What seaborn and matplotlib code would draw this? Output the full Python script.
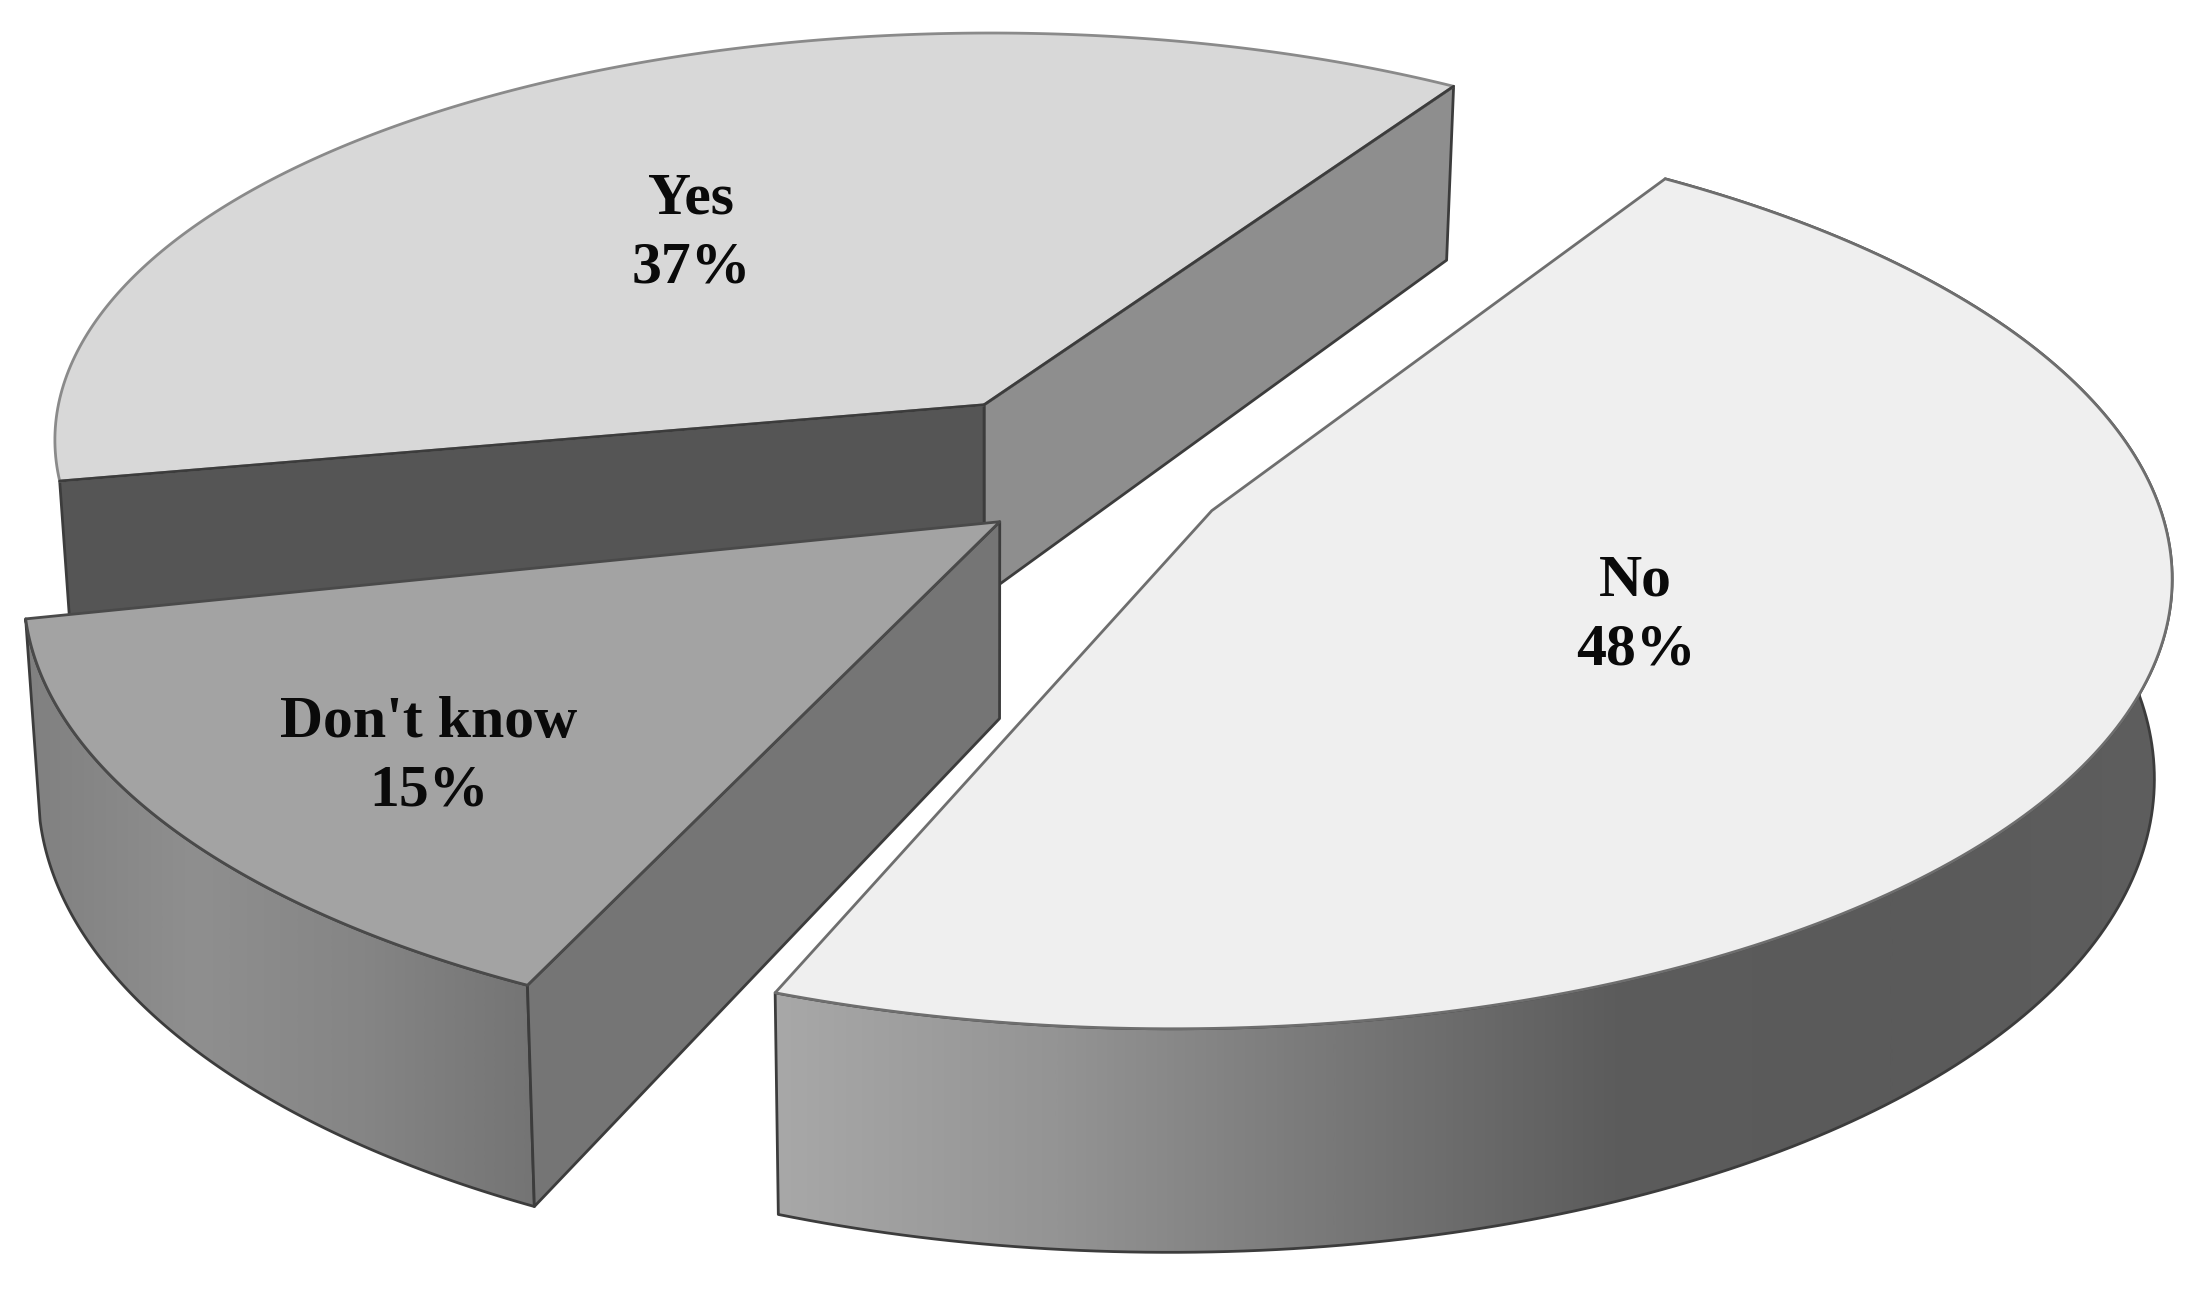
import numpy as np
import matplotlib
matplotlib.use('Agg')
import matplotlib.pyplot as plt
from matplotlib.patches import Polygon
import seaborn as sns

# chart data
categories = ["Yes", "Don't know", "No"]
shares = [37, 15, 48]
share_labels = ['37%', '15%', '48%']

# perspective of the pie plane, in pixels of the 1568 wide view
CX, CY, RX, RY, PERSP, DEPTH = 709, 340, 710, 314, 0.12, 138
CONVERGE = 0.015
START = 55

centers = {'Yes': (-0.010, 0.197), "Don't know": (0.027, -0.13), 'No': (0.15, -0.08)}
radii = {'Yes': 0.95, "Don't know": 0.98, 'No': 1.0}
tip_shift = {'Yes': (-0.006, -0.025), "Don't know": (-0.027, 0.0355), 'No': (0.06, 0.01)}
angle_nudge = {'Yes': (2, 4), "Don't know": (2, 1), 'No': (7.5, 0)}
top_colors = {'Yes': '#d8d8d8', "Don't know": '#a3a3a3', 'No': '#efefef'}
label_xy = {'Yes': (490, 166), "Don't know": (304, 537), 'No': (1160, 437)}


def project(x, y, lift=0.0):
    w = 1 + PERSP * y
    sx = CX + RX * x / w
    # the bottom of the pie narrows a little toward the middle
    sx = sx - CONVERGE * lift * (sx - 700)
    return sx, CY - RY * y / w + DEPTH * lift / w


def gradient_fill(ax, poly_xy, colors, x0, x1):
    cmap = sns.blend_palette(colors, 256, as_cmap=True)
    ys = poly_xy[:, 1]
    img = ax.imshow(np.linspace(0, 1, 512)[None, :], cmap=cmap, aspect='auto',
                    extent=(x0, x1, ys.max(), ys.min()), zorder=ax.zorder_now)
    patch = Polygon(poly_xy, closed=True, transform=ax.transData)
    img.set_clip_path(patch)
    ax.zorder_now += 1
    ax.add_patch(Polygon(poly_xy, closed=True, fill=False, ec='#3c3c3c', lw=2,
                         joinstyle='round', zorder=ax.zorder_now))
    ax.zorder_now += 1


def flat_face(ax, poly_xy, color, ec='#3c3c3c', lw=2):
    ax.add_patch(Polygon(poly_xy, closed=True, fc=color, ec=ec, lw=lw,
                         joinstyle='round', zorder=ax.zorder_now))
    ax.zorder_now += 1


def cut_face(ax, tip, rim, color):
    t0 = project(*tip)
    t1 = project(*rim)
    b1 = project(*rim, lift=1)
    b0 = project(*tip, lift=1)
    flat_face(ax, np.array([t0, t1, b1, b0]), color)


sns.set_style('white')
fig = plt.figure(figsize=(22.11, 12.93), dpi=100)
ax = fig.add_axes([0, 0, 1, 1])
ax.zorder_now = 2
ax.set_axis_off()

# slice angles come from the shares
edges = START + np.cumsum([0] + [s * 3.6 for s in shares])
slices = {}
for i, name in enumerate(categories):
    a0 = edges[i] + angle_nudge[name][0]
    a1 = edges[i + 1] + angle_nudge[name][1]
    theta = np.radians(np.linspace(a0, a1, 200))
    ox, oy = centers[name]
    r = radii[name]
    rim_x = ox + r * np.cos(theta)
    rim_y = oy + r * np.sin(theta)
    tip = (ox + tip_shift[name][0], oy + tip_shift[name][1])
    slices[name] = (theta, rim_x, rim_y, tip)


def top_face(ax, name, ec, lw=2):
    theta, rim_x, rim_y, tip = slices[name]
    sx, sy = project(rim_x, rim_y)
    pts = np.vstack([project(*tip), np.column_stack([sx, sy])])
    flat_face(ax, pts, top_colors[name], ec=ec, lw=lw)


def outer_wall(ax, name, colors, stop_deg):
    theta, rim_x, rim_y, tip = slices[name]
    keep = np.degrees(theta) <= stop_deg
    tx, ty = project(rim_x[keep], rim_y[keep])
    bx, by = project(rim_x[keep], rim_y[keep], lift=1)
    poly = np.vstack([np.column_stack([tx, ty]), np.column_stack([bx, by])[::-1]])
    gradient_fill(ax, poly, colors, poly[:, 0].min(), poly[:, 0].max())


# Yes: two cut faces below the top
theta, rim_x, rim_y, tip = slices['Yes']
cut_face(ax, tip, (rim_x[0], rim_y[0]), '#8e8e8e')
cut_face(ax, tip, (rim_x[-1], rim_y[-1]), '#555555')
top_face(ax, 'Yes', '#8a8a8a')
# straight edges of the Yes top are darker than its rim
for k in (0, -1):
    ex, ey = zip(project(*tip), project(rim_x[k], rim_y[k]))
    ax.plot(ex, ey, color='#3c3c3c', lw=2, zorder=ax.zorder_now)
ax.zorder_now += 1

# Don't know
theta, rim_x, rim_y, tip = slices["Don't know"]
outer_wall(ax, "Don't know", ['#808080', '#8f8f8f', '#858585', '#747474'], 400)
cut_face(ax, tip, (rim_x[-1], rim_y[-1]), '#757575')
top_face(ax, "Don't know", '#4a4a4a')

# No
outer_wall(ax, 'No', ['#a8a8a8', '#949494', '#787878', '#5c5c5c', '#5a5a5a', '#5e5e5e'], 365 + 360)
top_face(ax, 'No', '#6e6e6e')

for name, pct in zip(categories, share_labels):
    x, y = label_xy[name]
    ax.text(x, y, f'{name}\n{pct}', ha='center', va='center', color='#0a0a0a',
            fontsize=43, fontweight='bold', family='Liberation Serif',
            linespacing=1.37, zorder=ax.zorder_now)

ax.set_xlim(0, 1568)
ax.set_ylim(917, 0)
fig.savefig('out.png', dpi=100, facecolor='white')
